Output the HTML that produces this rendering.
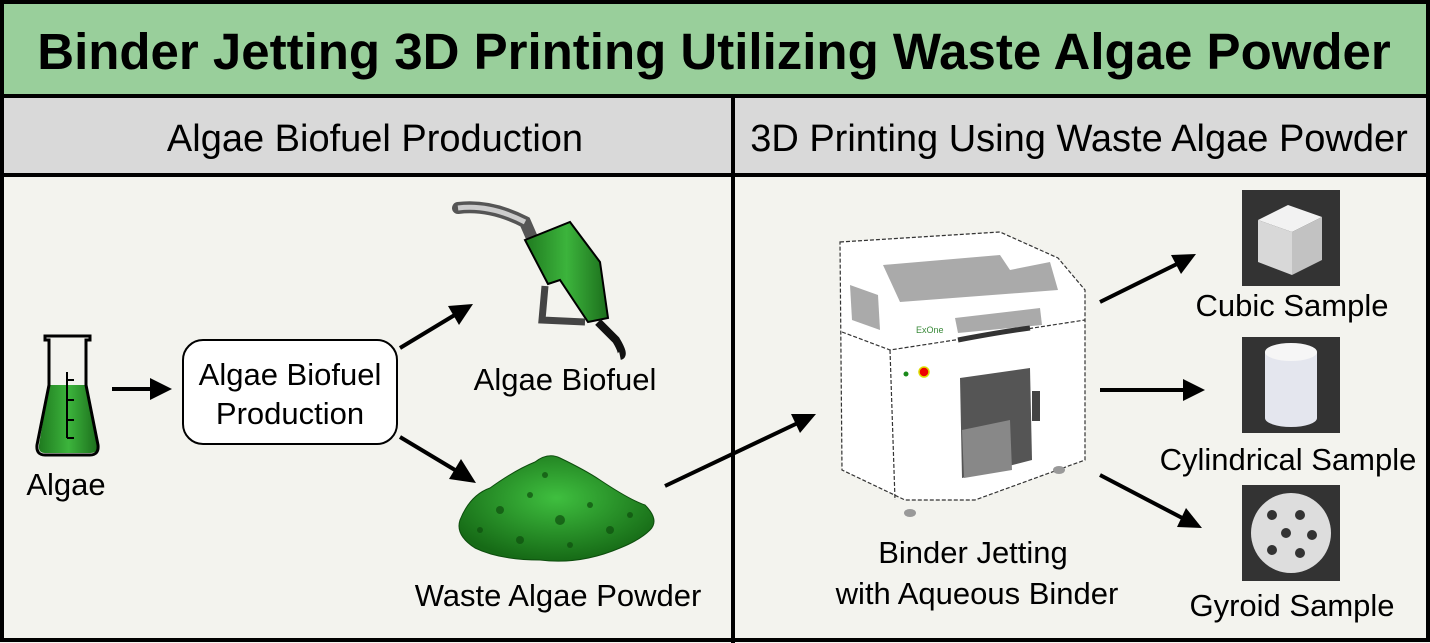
<!DOCTYPE html>
<html><head><meta charset="utf-8"><style>
body{margin:0;background:#fff}
svg{display:block;font-family:"Liberation Sans",Arial,sans-serif}
</style></head><body>
<svg width="1430" height="643" viewBox="0 0 1430 643" xmlns="http://www.w3.org/2000/svg">
<defs>
<linearGradient id="gf" x1="0" x2="1"><stop offset="0" stop-color="#1f7a1f"/><stop offset="0.5" stop-color="#3cb43c"/><stop offset="1" stop-color="#1c6e1c"/></linearGradient>
<radialGradient id="gp" cx="0.5" cy="0.4" r="0.6"><stop offset="0" stop-color="#3fbf3f"/><stop offset="1" stop-color="#166a16"/></radialGradient>
</defs>
<rect x="0" y="0" width="1430" height="643" fill="#f3f3ee"/>
<rect x="2" y="2" width="1426" height="93" fill="#99cf9b"/>
<rect x="2" y="97" width="1426" height="77" fill="#d9d9d9"/>
<g stroke="#000" stroke-width="4" fill="none">
<rect x="2" y="2" width="1426" height="638"/>
<line x1="0" y1="96" x2="1430" y2="96"/>
<line x1="0" y1="175" x2="1430" y2="175"/>
<line x1="733" y1="96" x2="733" y2="643"/>
</g>
<text x="714" y="69" font-size="51" font-weight="bold" text-anchor="middle">Binder Jetting 3D Printing Utilizing Waste Algae Powder</text>
<text x="375" y="151" font-size="38" text-anchor="middle">Algae Biofuel Production</text>
<text x="1079" y="151" font-size="38" text-anchor="middle">3D Printing Using Waste Algae Powder</text>

<!-- flask -->
<path d="M49 385 H86 L98 445 Q99 453 90 453 H45 Q38 453 39 445 Z" fill="url(#gf)"/>
<path d="M45 336 H90 V340 H86 V385 L98 445 Q99 455 90 455 H45 Q36 455 37 445 L49 385 V340 H45 Z" fill="none" stroke="#000" stroke-width="3"/>
<path d="M67 372 V438 M67 380 H74 M67 400 H74 M67 420 H74 M67 438 H74" stroke="#000" stroke-width="2" fill="none"/>
<text x="66" y="495" font-size="31" text-anchor="middle">Algae</text>

<!-- arrows -->
<g stroke="#000" stroke-width="4">
<line x1="112" y1="389" x2="158" y2="389"/>
<line x1="400" y1="348" x2="458" y2="313"/>
<line x1="400" y1="437" x2="460" y2="473"/>
<line x1="665" y1="486" x2="802" y2="421"/>
<line x1="1100" y1="302" x2="1183" y2="261"/>
<line x1="1100" y1="390" x2="1190" y2="390"/>
<line x1="1100" y1="475" x2="1188" y2="521"/>
</g>
<g fill="#000">
<polygon points="172,389 150,378 150,400"/>
<polygon points="473,304 448,306 459,325"/>
<polygon points="476,483 449,479 461,459"/>
<polygon points="816,414 791,414 800,433"/>
<polygon points="1196,254 1171,255 1181,274"/>
<polygon points="1205,390 1183,379 1183,401"/>
<polygon points="1202,528 1186,508 1177,527"/>
</g>

<rect x="183" y="340" width="214" height="104" rx="20" fill="#fff" stroke="#000" stroke-width="2"/>
<text x="290" y="385" font-size="31" text-anchor="middle">Algae Biofuel</text>
<text x="290" y="424" font-size="31" text-anchor="middle">Production</text>

<!-- nozzle -->
<path d="M458 208 Q490 204 525 222 L532 238" stroke="#555" stroke-width="12" fill="none" stroke-linecap="round"/>
<path d="M458 208 Q490 204 525 222" stroke="#ccc" stroke-width="5" fill="none"/>
<path d="M525 240 L570 222 L600 262 L608 318 L588 322 L560 280 L548 284 Z" fill="url(#gf)" stroke="#000" stroke-width="2"/>
<path d="M545 286 L542 320 L585 322" stroke="#444" stroke-width="7" fill="none"/>
<path d="M598 322 L616 340 Q625 355 620 356" stroke="#111" stroke-width="8" fill="none"/>
<text x="565" y="390" font-size="31" text-anchor="middle">Algae Biofuel</text>

<!-- powder -->
<path d="M460 520 Q470 495 490 488 Q515 470 535 462 Q548 452 560 458 Q585 470 600 480 Q630 500 645 505 Q660 520 650 530 Q640 540 620 548 Q580 565 540 560 Q500 560 475 548 Q455 535 460 520 Z" fill="url(#gp)" stroke="#0d4d0d" stroke-width="1"/>
<g fill="#0e4f0e" opacity="0.7">
<circle cx="500" cy="510" r="4"/><circle cx="530" cy="495" r="3"/><circle cx="560" cy="520" r="5"/><circle cx="590" cy="505" r="3"/><circle cx="610" cy="530" r="4"/><circle cx="520" cy="540" r="4"/><circle cx="480" cy="530" r="3"/><circle cx="570" cy="545" r="3"/><circle cx="630" cy="515" r="3"/><circle cx="545" cy="475" r="3"/>
</g>
<text x="558" y="606" font-size="31" text-anchor="middle">Waste Algae Powder</text>

<!-- printer -->
<g stroke="#333" stroke-width="1.2" stroke-dasharray="4 2">
<path d="M840 242 L1000 232 L1058 258 L1085 290 L1085 460 L975 500 L905 500 L842 470 Z" fill="#fff"/>
<path d="M842 332 L890 350 L1085 320" fill="none"/>
<path d="M890 350 L895 500" fill="none"/>
</g>
<path d="M883 265 L1000 255 L1010 270 L1050 262 L1058 290 L900 302 Z" fill="#aaa"/>
<path d="M850 285 L878 295 L880 330 L852 320 Z" fill="#aaa"/>
<path d="M955 318 L1040 308 L1042 325 L958 333 Z" fill="#aaa"/>
<path d="M958 340 Q1000 332 1030 328" stroke="#333" stroke-width="5" fill="none"/>
<text x="916" y="333" font-size="9" fill="#3a8a3a">ExOne</text>
<circle cx="906" cy="374" r="2.5" fill="#1a8a1a"/>
<circle cx="924" cy="372" r="5" fill="#e00" stroke="#dd0" stroke-width="1.5"/>
<path d="M960 378 L1030 368 L1032 460 L962 478 Z" fill="#555"/>
<path d="M962 430 L1010 420 L1012 470 L964 478 Z" fill="#888"/>
<rect x="1032" y="391" width="8" height="30" fill="#444"/>
<ellipse cx="910" cy="513" rx="6" ry="4" fill="#999"/>
<ellipse cx="1059" cy="470" rx="6" ry="4" fill="#999"/>
<text x="973" y="563" font-size="31" text-anchor="middle">Binder Jetting</text>
<text x="977" y="604" font-size="31" text-anchor="middle">with Aqueous Binder</text>

<!-- samples -->
<rect x="1242" y="190" width="98" height="96" fill="#333"/>
<polygon points="1258,220 1288,205 1322,217 1292,232" fill="#f2f2f2"/>
<polygon points="1258,220 1292,232 1292,275 1258,262" fill="#d8d8d8"/>
<polygon points="1292,232 1322,217 1322,260 1292,275" fill="#c2c2c2"/>
<text x="1292" y="316" font-size="31" text-anchor="middle">Cubic Sample</text>
<rect x="1242" y="337" width="98" height="96" fill="#333"/>
<rect x="1265" y="352" width="52" height="66" fill="#e4e6ee"/>
<ellipse cx="1291" cy="352" rx="26" ry="9" fill="#f6f6f6"/>
<ellipse cx="1291" cy="418" rx="26" ry="9" fill="#e4e6ee"/>
<text x="1288" y="470" font-size="31" text-anchor="middle">Cylindrical Sample</text>
<rect x="1242" y="485" width="98" height="96" fill="#333"/>
<circle cx="1291" cy="533" r="40" fill="#ddd"/>
<g fill="#333"><circle cx="1272" cy="515" r="5"/><circle cx="1300" cy="515" r="5"/><circle cx="1286" cy="533" r="5"/><circle cx="1312" cy="535" r="5"/><circle cx="1272" cy="550" r="5"/><circle cx="1300" cy="553" r="5"/></g>
<text x="1292" y="616" font-size="31" text-anchor="middle">Gyroid Sample</text>
</svg>
</body></html>
